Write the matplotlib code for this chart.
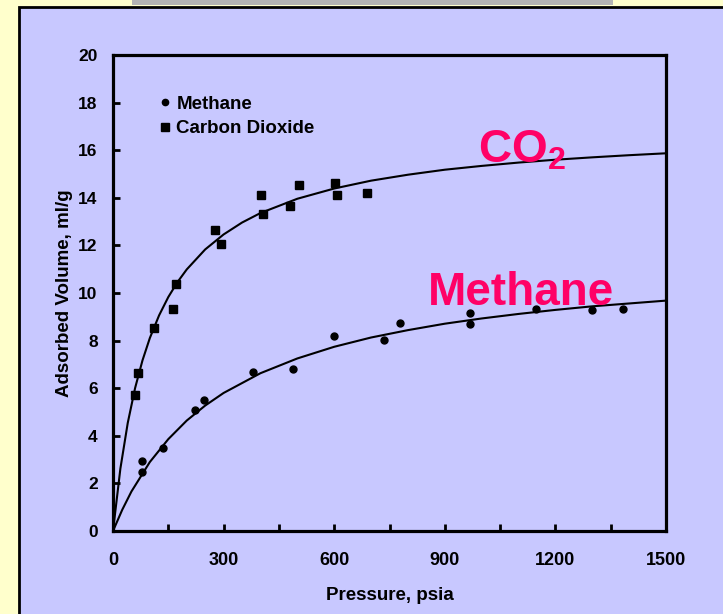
import matplotlib.pyplot as plt
from matplotlib.patches import Rectangle

# measured points
co2_p = [61, 69, 111, 162, 170, 277, 292, 402, 406, 480, 505, 601, 607, 689]
co2_v = [5.71, 6.65, 8.52, 9.31, 10.38, 12.63, 12.07, 14.12, 13.33, 13.67, 14.54, 14.61, 14.12, 14.19]
ch4_p = [78, 80, 135, 222, 248, 379, 489, 600, 735, 779, 967, 967, 1148, 1300, 1384]
ch4_v = [2.94, 2.47, 3.47, 5.08, 5.49, 6.67, 6.79, 8.21, 8.03, 8.74, 9.15, 8.70, 9.31, 9.29, 9.34]

# fitted curves
co2_fit_p = [0, 20, 40, 60, 80, 100, 125, 150, 175, 200, 250, 300, 350, 400, 500,
             600, 700, 800, 900, 1000, 1100, 1200, 1300, 1400, 1500]
co2_fit_v = [0, 2.62, 4.54, 6.01, 7.17, 8.11, 9.06, 9.83, 10.46, 10.99, 11.83, 12.46, 12.96, 13.36, 13.96,
             14.39, 14.72, 14.97, 15.18, 15.34, 15.48, 15.60, 15.70, 15.79, 15.87]
ch4_fit_p = [0, 25, 50, 100, 150, 200, 250, 300, 400, 500, 600, 700, 800, 900, 1000,
             1100, 1200, 1300, 1400, 1500]
ch4_fit_v = [0, 0.89, 1.66, 2.90, 3.86, 4.64, 5.27, 5.80, 6.63, 7.25, 7.74, 8.13, 8.44, 8.71, 8.93,
             9.12, 9.29, 9.44, 9.56, 9.68]

x_ticks = [0, 300, 600, 900, 1200, 1500]
y_ticks = [0, 2, 4, 6, 8, 10, 12, 14, 16, 18, 20]

W, H = 723, 614
plt.rcParams['font.family'] = ['Liberation Sans', 'DejaVu Sans']
plt.rcParams['mathtext.fontset'] = 'custom'
plt.rcParams['mathtext.bf'] = 'Liberation Sans:bold'
plt.rcParams['mathtext.rm'] = 'Liberation Sans'

fig = plt.figure(figsize=(W / 100, H / 100), dpi=100)
fig.patch.set_facecolor('#FFFFCC')

# slide panel and grey bar
fig.patches.append(Rectangle((19 / W, -0.01), 1, 1.01 - 7 / H, transform=fig.transFigure,
                             facecolor='#C8C8FF', edgecolor='black', linewidth=2, zorder=-2))
fig.patches.append(Rectangle((132 / W, 1 - 5 / H), (613 - 132) / W, 5 / H, transform=fig.transFigure,
                             facecolor='#B4B4B4', edgecolor='none', zorder=-2))

ax = fig.add_axes([113 / W, 1 - 531 / H, (666 - 113) / W, (531 - 55) / H])
ax.set_facecolor('#C8C8FF')

ax.plot(co2_fit_p, co2_fit_v, color='black', lw=1.5)
ax.plot(ch4_fit_p, ch4_fit_v, color='black', lw=1.5)
ax.plot(ch4_p, ch4_v, 'o', color='black', ms=5, label='Methane')
ax.plot(co2_p, co2_v, 's', color='black', ms=6, label='Carbon Dioxide')

ax.set_xlim(0, 1500)
ax.set_ylim(0, 20)
ax.set_xticks(x_ticks)
ax.set_xticks(range(150, 1500, 300), minor=True)
ax.set_yticks(y_ticks)
for s in ax.spines.values():
    s.set_linewidth(2.3)
ax.tick_params(which='both', direction='in', width=2, length=5)
ax.tick_params(axis='x', pad=15, labelsize=13)
ax.tick_params(axis='y', pad=11, labelsize=12.5)
for lab in ax.get_xticklabels() + ax.get_yticklabels():
    lab.set_fontweight('bold')

ax.set_xlabel('Pressure, psia', fontsize=13.5, fontweight='bold', labelpad=13)
ax.set_ylabel('Adsorbed Volume, ml/g', fontsize=13.5, fontweight='bold', labelpad=4)

leg = ax.legend(loc='upper left', bbox_to_anchor=(0.05, 0.95), frameon=False,
                prop={'weight': 'bold', 'size': 13.5}, handletextpad=0.2,
                labelspacing=0.4, handlelength=0.8, markerscale=0.9)

ax.text(990, 15.5, r'CO$_\mathbf{2}$', color='#FF0066', fontsize=33, fontweight='bold')
ax.text(854, 9.5, 'Methane', color='#FF0066', fontsize=33, fontweight='bold')

fig.savefig('out.png', dpi=100, facecolor=fig.get_facecolor())
